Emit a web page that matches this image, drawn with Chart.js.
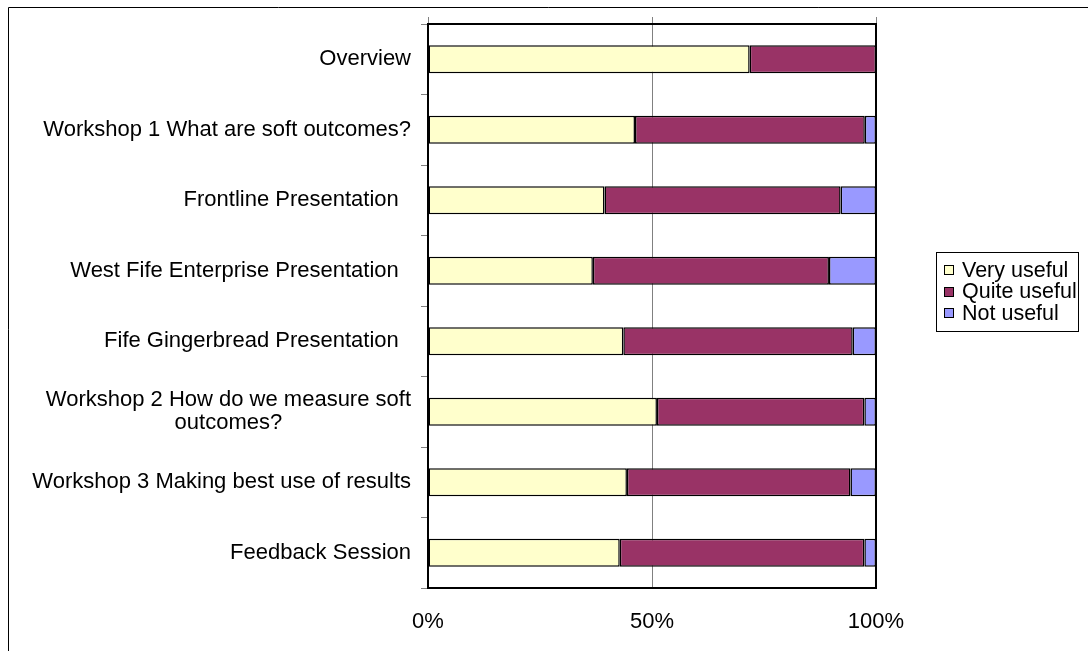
<!DOCTYPE html>
<html>
<head>
<meta charset="utf-8">
<title>Session usefulness ratings</title>
<script src="https://cdn.jsdelivr.net/npm/chart.js@4.4.1/dist/chart.umd.min.js"></script>
<style>
  html, body { margin: 0; padding: 0; background: #ffffff; }
  #wrap { position: relative; width: 1088px; height: 651px; }
</style>
</head>
<body>
<div id="wrap"><canvas id="chart" width="1088" height="651"></canvas></div>
<script>
// Sessions, top to bottom
const sessions = [
  'Overview',
  'Workshop 1 What are soft outcomes?',
  'Frontline Presentation  ',
  'West Fife Enterprise Presentation  ',
  'Fife Gingerbread Presentation  ',
  ['Workshop 2 How do we measure soft', 'outcomes?'],
  'Workshop 3 Making best use of results',
  'Feedback Session'
];

// Share of responses (%) per session
const veryUseful  = [71.8, 46.2, 39.4, 36.8, 43.6, 51.1, 44.4, 42.8];
const quiteUseful = [28.2, 51.3, 52.7, 52.7, 51.2, 46.3, 49.9, 54.6];
const notUseful   = [0.0,  2.5,  7.9, 10.5,  5.2,  2.6,  5.7,  2.6];

const seriesNames = ['Very useful', 'Quite useful', 'Not useful'];
const seriesColors = ['#FFFFCC', '#993366', '#9999FF'];

const valueTicks = [0, 50, 100];

const FONT = '"Liberation Sans", Arial, sans-serif';
const FONT_SIZE = 22;
const LEGEND_FONT_SIZE = 21.5;

// Outer frame, plot frame and the small marks above the plot
const framePlugin = {
  id: 'frame',
  beforeDraw(chart) {
    const ctx = chart.ctx;
    ctx.save();
    ctx.fillStyle = '#ffffff';
    ctx.fillRect(0, 0, chart.width, chart.height);
    ctx.strokeStyle = '#000000';
    ctx.lineWidth = 1;
    ctx.beginPath();
    ctx.moveTo(8.5, chart.height);
    ctx.lineTo(8.5, 7.5);
    ctx.lineTo(chart.width, 7.5);
    ctx.stroke();
    ctx.restore();
  },
  afterDatasetsDraw(chart) {
    const ctx = chart.ctx;
    const a = chart.chartArea;
    const xs = chart.scales.x;
    ctx.save();
    // marks above the top edge at each value tick
    ctx.strokeStyle = '#808080';
    ctx.lineWidth = 1;
    valueTicks.forEach(v => {
      const px = Math.round(xs.getPixelForValue(v)) + 0.5;
      ctx.beginPath();
      ctx.moveTo(px, a.top - 7);
      ctx.lineTo(px, a.top);
      ctx.stroke();
    });
    ctx.strokeStyle = '#000000';
    ctx.lineWidth = 2;
    ctx.strokeRect(a.left, a.top, a.right - a.left, a.bottom - a.top);
    ctx.restore();
  }
};

// Category labels: block right-aligned to the axis, lines centred within it
const categoryLabelPlugin = {
  id: 'categoryLabels',
  afterDraw(chart) {
    const ctx = chart.ctx;
    const ys = chart.scales.y;
    const right = chart.chartArea.left - 17;
    const lineH = 23;
    ctx.save();
    ctx.font = FONT_SIZE + 'px ' + FONT;
    ctx.fillStyle = '#000000';
    ctx.textBaseline = 'middle';
    ctx.textAlign = 'left';
    chart.data.labels.forEach((lab, i) => {
      const lines = Array.isArray(lab) ? lab : [lab];
      const maxW = Math.max(...lines.map(l => ctx.measureText(l).width));
      const cx = right - maxW / 2;
      const cy = ys.getPixelForValue(i);
      const y0 = cy - (lines.length - 1) * lineH / 2;
      lines.forEach((l, k) => {
        // trailing spaces count toward the line width
        const w = ctx.measureText(l).width;
        ctx.fillText(l, cx - w / 2, y0 + k * lineH);
      });
    });
    ctx.restore();
  }
};

// Boxed legend to the right of the plot
const boxLegendPlugin = {
  id: 'boxLegend',
  afterDraw(chart) {
    const ctx = chart.ctx;
    const left = 936, top = 252, width = 142, height = 79;
    const rowH = 21.5, firstY = 270;
    ctx.save();
    ctx.strokeStyle = '#000000';
    ctx.lineWidth = 1;
    ctx.strokeRect(left + 0.5, top + 0.5, width, height);
    ctx.font = LEGEND_FONT_SIZE + 'px ' + FONT;
    ctx.textBaseline = 'middle';
    ctx.textAlign = 'left';
    chart.data.datasets.forEach((ds, i) => {
      const cy = firstY + i * rowH;
      ctx.fillStyle = ds.backgroundColor;
      ctx.fillRect(944, Math.round(cy - 5), 10, 10);
      ctx.strokeStyle = '#000000';
      ctx.strokeRect(944.5, Math.round(cy - 5) + 0.5, 9, 9);
      ctx.fillStyle = '#000000';
      ctx.fillText(ds.label, 962, cy + 1);
    });
    ctx.restore();
  }
};

const seriesValues = [veryUseful, quiteUseful, notUseful];

new Chart(document.getElementById('chart'), {
  type: 'bar',
  data: {
    labels: sessions,
    datasets: seriesNames.map((name, i) => ({
      label: name,
      data: seriesValues[i],
      backgroundColor: seriesColors[i],
      borderColor: '#000000',
      borderWidth: 1.5,
      borderSkipped: false,
      barPercentage: 0.4,
      categoryPercentage: 1.0
    }))
  },
  options: {
    indexAxis: 'y',
    responsive: false,
    animation: false,
    events: [],
    layout: { padding: { left: 0, top: 24, right: 212, bottom: 0 } },
    plugins: {
      legend: { display: false },
      tooltip: { enabled: false },
      title: { display: false }
    },
    scales: {
      x: {
        stacked: true,
        min: 0,
        max: 100,
        afterBuildTicks(scale) {
          scale.ticks = valueTicks.map(v => ({ value: v }));
        },
        afterFit(scale) { scale.height = 63; },
        border: { display: false },
        grid: { color: '#808080', lineWidth: 1, drawTicks: false },
        ticks: {
          padding: 21,
          color: '#000000',
          font: { family: FONT, size: FONT_SIZE },
          maxRotation: 0,
          callback: v => v + '%'
        }
      },
      y: {
        stacked: true,
        offset: true,
        afterFit(scale) { scale.width = 428; },
        border: { display: false },
        grid: {
          offset: true,
          drawOnChartArea: false,
          drawTicks: true,
          tickLength: 7,
          color: '#808080'
        },
        ticks: { display: false }
      }
    }
  },
  plugins: [framePlugin, categoryLabelPlugin, boxLegendPlugin]
});
</script>
</body>
</html>
